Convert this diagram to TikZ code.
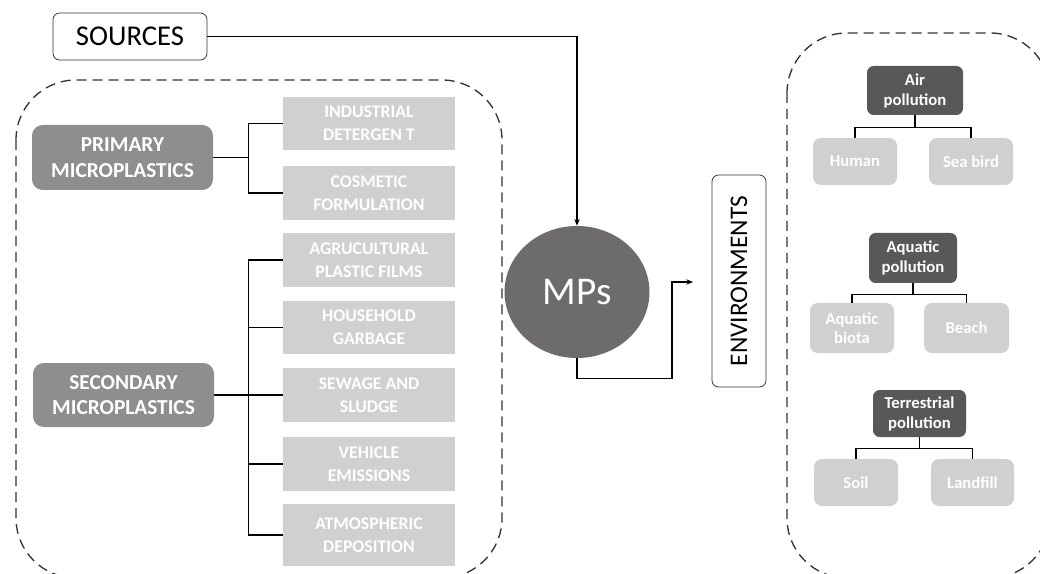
\documentclass[tikz,border=0pt]{standalone}
\usepackage{fontspec}
\setmainfont{Carlito}
\usetikzlibrary{arrows.meta,shapes.geometric,calc}
\definecolor{leafgray}{HTML}{D0D0D0}
\definecolor{midgray}{HTML}{8E8E8E}
\definecolor{darkbox}{HTML}{585858}
\definecolor{circgray}{HTML}{6E6B6B}
\tikzset{
  sz/.style 2 args={minimum width=#1*0.75pt, minimum height=#2*0.75pt, inner sep=0pt},
  leaf/.style={fill=leafgray, text=white, font=\bfseries\fontsize{13.3}{17}\selectfont, align=center},
  rleaf/.style={fill=leafgray, text=white, font=\bfseries\fontsize{12.5}{14}\selectfont, align=center, rounded corners=6pt},
  mid/.style={fill=midgray, text=white, font=\bfseries\fontsize{16}{19}\selectfont, align=center, rounded corners=8pt},
  dark/.style={fill=darkbox, text=white, font=\bfseries\fontsize{12.5}{15}\selectfont, align=center, rounded corners=5pt},
  outl/.style={draw=black!80, line width=0.6pt, rounded corners=5pt},
  conn/.style={draw=black, line width=1pt},
  grp/.style={draw=black!80, line width=1pt, dash pattern=on 7.5pt off 4.5pt, rounded corners=45pt},
  arr/.style={draw=black, line width=0.8pt, -{Stealth[length=5pt,width=4pt]}}
}
\begin{document}
\begin{tikzpicture}[x=0.75pt,y=-0.75pt]
\useasboundingbox (0,0) rectangle (1040,574);
\clip (0,0) rectangle (1040,574);
% dashed groups
\draw[grp] (16,80) rectangle (502,578);
\draw[grp] (787,33) rectangle (1050,578);
% sources
\node[outl, sz={154}{47}, font=\fontsize{21.5}{24}\selectfont] (sources) at (130,36.5) {SOURCES};
% MPs
\node[ellipse, fill=circgray, minimum width=145*0.75pt, minimum height=132*0.75pt, inner sep=0pt, text=white, font=\fontsize{29.5}{32}\selectfont] (mps) at (577,292) {MPs};
% environments
\node[outl, rotate=90, sz={212}{54}, font=\fontsize{19}{22}\selectfont] (env) at (739,281) {ENVIRONMENTS};
\coordinate (envin) at (693,282);
% left
\node[mid, sz={181}{65}] (primary) at (122.5,157.5) {PRIMARY\\MICROPLASTICS};
\node[mid, sz={181}{64}] (secondary) at (123.5,395) {SECONDARY\\MICROPLASTICS};
\node[leaf, sz={172}{53}] (ind) at (369,123.5) {INDUSTRIAL\\DETERGEN T};
\node[leaf, sz={172}{54}] (cos) at (369,193) {COSMETIC\\FORMULATION};
\node[leaf, sz={172}{54}] (agr) at (369,260) {AGRUCULTURAL\\PLASTIC FILMS};
\node[leaf, sz={172}{53}] (hou) at (369,327.5) {HOUSEHOLD\\GARBAGE};
\node[leaf, sz={172}{54}] (sew) at (369,395) {SEWAGE AND\\SLUDGE};
\node[leaf, sz={172}{54}] (veh) at (369,464) {VEHICLE\\EMISSIONS};
\node[leaf, sz={172}{62}] (atm) at (369,535) {ATMOSPHERIC\\DEPOSITION};
\draw[conn] (primary.east) -- ++(35,0) coordinate (pj);
\draw[conn] (pj) |- (ind.west);
\draw[conn] (pj) |- (cos.west);
\draw[conn] (secondary.east) -- ++(34,0) coordinate (sj);
\draw[conn] (sj) |- (agr.west);
\draw[conn] (sj) |- (hou.west);
\draw[conn] (sj) |- (sew.west);
\draw[conn] (sj) |- (veh.west);
\draw[conn] (sj) |- (atm.west);
% right
\node[dark, sz={96}{49}] (air) at (915,90.5) {Air\\pollution};
\node[rleaf, sz={84}{47}] (human) at (855,161.5) {Human};
\node[rleaf, sz={84}{47}] (seabird) at (971,161.5) {Sea bird};
\node[dark, sz={88}{50}] (aqua) at (913,258) {Aquatic\\pollution};
\node[rleaf, sz={84}{50}] (biota) at (852,328) {Aquatic\\biota};
\node[rleaf, sz={85}{50}] (beach) at (966.5,328) {Beach};
\node[dark, sz={93}{47}] (terr) at (919.5,413.5) {Terrestrial\\pollution};
\node[rleaf, sz={84}{47}] (soil) at (856,482.5) {Soil};
\node[rleaf, sz={83}{47}] (landfill) at (972.5,482.5) {Landfill};
\draw[conn] (air.south) -- ++(0,12) coordinate (aj);
\draw[conn] (aj) -| (human.north);
\draw[conn] (aj) -| (seabird.north);
\draw[conn] (aqua.south) -- ++(0,11) coordinate (qj);
\draw[conn] (qj) -| (biota.north);
\draw[conn] (qj) -| (beach.north);
\draw[conn] (terr.south) -- ++(0,11) coordinate (tj);
\draw[conn] (tj) -| (soil.north);
\draw[conn] (tj) -| (landfill.north);
% flow
\draw[arr] (sources.east) -| (mps.north);
\draw[arr] (mps.south) -- ++(0,20) -| ($(envin)+(-21,0)$) -- (envin);
\end{tikzpicture}
\end{document}
